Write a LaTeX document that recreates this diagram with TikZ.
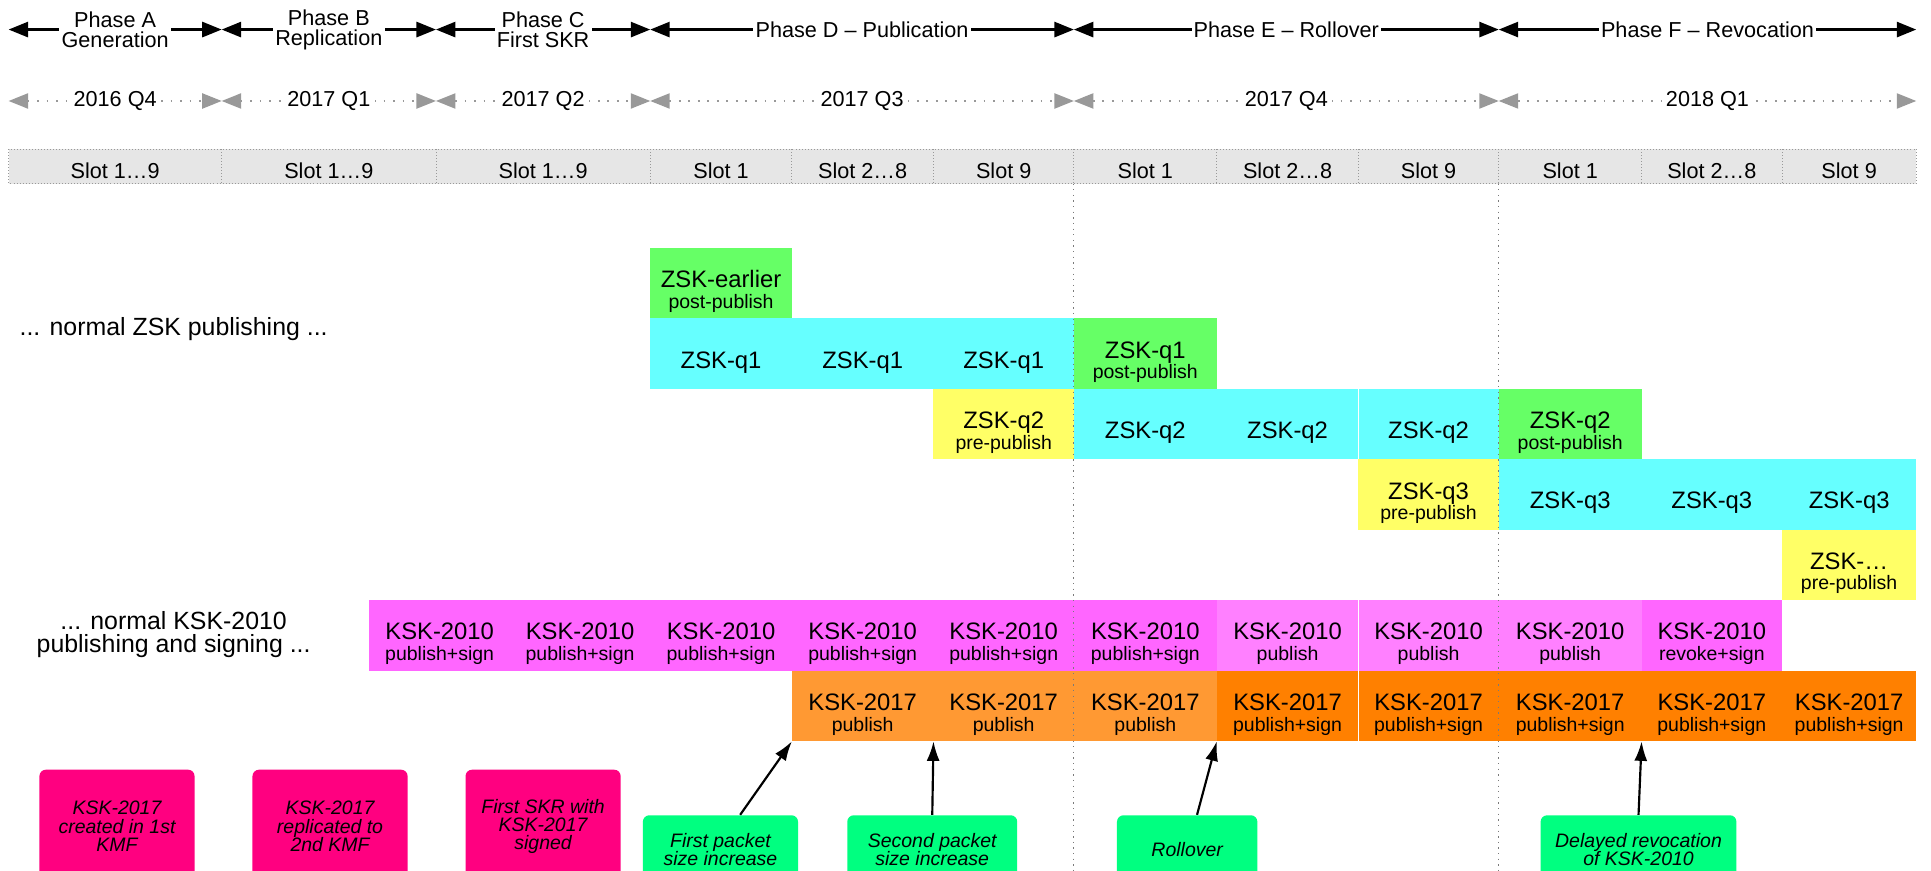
\documentclass[tikz,border=0pt]{standalone}
\usepackage{fontspec}
\setmainfont{Liberation Sans}
\usetikzlibrary{arrows.meta}

% Colours of the key states.
\definecolor{zskgreen}{HTML}{66FF66}
\definecolor{zskcyan}{HTML}{66FFFF}
\definecolor{zskyellow}{HTML}{FFFF66}
\definecolor{kskmagenta}{HTML}{FF66FF}
\definecolor{ksklight}{HTML}{FF80FF}
\definecolor{orangelight}{HTML}{FF9933}
\definecolor{orangedark}{HTML}{FF8000}
\definecolor{notepink}{HTML}{FF0080}
\definecolor{notegreen}{HTML}{00FF80}
\definecolor{slotgray}{HTML}{E6E6E6}
\definecolor{linegray}{HTML}{999999}

% Second, smaller line inside a cell.
\newcommand{\keystate}[1]{{\fontsize{9}{9.5}\selectfont #1}}

\begin{document}
\begin{tikzpicture}[%
        x = 2cm, y = -2cm,
        >=Latex,
        phase/.style = {%
            arrows = {Triangle[length=9pt, width=7pt]-Triangle[length=9pt, width=7pt]},
            line width = 1.1pt
        },
        quarter/.style = {%
            arrows = {Triangle[length=9pt, width=7pt]-Triangle[length=9pt, width=7pt]},
            draw = linegray, line width = 0.8pt,
            dash pattern = on 0.8pt off 3.6pt
        },
        phaselabel/.style = {fill = white, inner sep = 1pt, align = center,
            font = {\fontsize{10}{9.1}\selectfont}},
        quarterlabel/.style = {fill = white, inner sep = 2pt,
            font = {\fontsize{10}{10}\selectfont}},
        slotlabel/.style = {font = {\fontsize{10}{10}\selectfont}},
        celltext/.style = {align = center, yshift = -4pt,
            font = {\fontsize{11}{9.5}\selectfont}},
        sidelabel/.style = {align = center,
            font = {\fontsize{11.5}{10.5}\selectfont}},
        pinknote/.style = {fill = notepink, rounded corners = 3pt,
            minimum width = 2.52cm, minimum height = 1.84cm,
            align = center, inner sep = 2pt,
            font = {\fontsize{9}{8.4}\selectfont\itshape\lineskiplimit=-5pt}},
        greennote/.style = {fill = notegreen, rounded corners = 3pt,
            minimum height = 1.12cm, align = center, inner sep = 2pt,
            font = {\fontsize{9}{8.5}\selectfont\itshape\lineskiplimit=-5pt}},
        notearrow/.style = {-{Latex[length=9pt, width=6pt]}, line width = 1pt}
    ]

        \useasboundingbox (0, 0) rectangle (15.68, 7.07);

        % Boundaries of the phases and of the quarters.
        \coordinate (ph0) at (0.07, 0.24);
        \coordinate (ph1) at (1.80, 0.24);
        \coordinate (ph2) at (3.54, 0.24);
        \coordinate (ph3) at (5.28, 0.24);
        \coordinate (ph4) at (8.72, 0.24);
        \coordinate (ph5) at (12.17, 0.24);
        \coordinate (ph6) at (15.56, 0.24);

        \coordinate (qt0) at (0.07, 0.82);
        \coordinate (qt1) at (1.80, 0.82);
        \coordinate (qt2) at (3.54, 0.82);
        \coordinate (qt3) at (5.28, 0.82);
        \coordinate (qt4) at (8.72, 0.82);
        \coordinate (qt5) at (12.17, 0.82);
        \coordinate (qt6) at (15.56, 0.82);

        % ZSK blocks.
        \fill[zskgreen] (5.28, 2.01) rectangle (6.43, 2.585);
        \fill[zskcyan] (5.28, 2.585) rectangle (8.72, 3.16);
        \fill[zskgreen] (8.72, 2.585) rectangle (9.88, 3.16);
        \fill[zskyellow] (7.58, 3.16) rectangle (8.72, 3.73);
        \fill[zskcyan] (8.72, 3.16) rectangle (12.17, 3.73);
        \fill[zskgreen] (12.17, 3.16) rectangle (13.33, 3.73);
        \fill[zskyellow] (11.03, 3.73) rectangle (12.17, 4.30);
        \fill[zskcyan] (12.17, 3.73) rectangle (15.56, 4.30);
        \fill[zskyellow] (14.47, 4.30) rectangle (15.56, 4.87);

        % KSK blocks.
        \fill[kskmagenta] (3.00, 4.87) rectangle (9.88, 5.445);
        \fill[ksklight] (9.88, 4.87) rectangle (13.33, 5.445);
        \fill[kskmagenta] (13.33, 4.87) rectangle (14.47, 5.445);
        \fill[orangelight] (6.43, 5.445) rectangle (9.88, 6.02);
        \fill[orangedark] (9.88, 5.445) rectangle (15.56, 6.02);

        % Thin white cuts between some of the cells.
        \draw[white, line width = 0.6pt] (11.03, 3.16) -- (11.03, 3.73);
        \draw[white, line width = 0.6pt] (11.03, 4.87) -- (11.03, 6.02);

        % Dotted lines at the start of Phase E and Phase F.
        \draw[linegray!80!black, line width = 0.5pt, dash pattern = on 0.6pt off 2pt]
            (8.72, 1.49) -- (8.72, 7.07);
        \draw[linegray!80!black, line width = 0.5pt, dash pattern = on 0.6pt off 2pt]
            (12.17, 1.49) -- (12.17, 7.07);

        % Phases.
        \draw[phase] (ph0) -- node[phaselabel] {Phase A\\Generation} (ph1);
        \draw[phase] (ph1) -- node[phaselabel] {Phase B\\Replication} (ph2);
        \draw[phase] (ph2) -- node[phaselabel] {Phase C\\First SKR} (ph3);
        \draw[phase] (ph3) -- node[phaselabel] {Phase D – Publication} (ph4);
        \draw[phase] (ph4) -- node[phaselabel] {Phase E – Rollover} (ph5);
        \draw[phase] (ph5) -- node[phaselabel] {Phase F – Revocation} (ph6);

        % Quarters.
        \draw[quarter] (qt0) -- node[quarterlabel] {2016 Q4} (qt1);
        \draw[quarter] (qt1) -- node[quarterlabel] {2017 Q1} (qt2);
        \draw[quarter] (qt2) -- node[quarterlabel] {2017 Q2} (qt3);
        \draw[quarter] (qt3) -- node[quarterlabel] {2017 Q3} (qt4);
        \draw[quarter] (qt4) -- node[quarterlabel] {2017 Q4} (qt5);
        \draw[quarter] (qt5) -- node[quarterlabel] {2018 Q1} (qt6);

        % Row of slots.
        \draw[fill = slotgray, draw = linegray, line width = 0.4pt, densely dotted]
            (0.07, 1.21) rectangle (15.56, 1.49);
        \draw[linegray, line width = 0.4pt, densely dotted]
            (1.80, 1.21) -- (1.80, 1.49) (3.54, 1.21) -- (3.54, 1.49)
            (5.28, 1.21) -- (5.28, 1.49) (6.43, 1.21) -- (6.43, 1.49)
            (7.58, 1.21) -- (7.58, 1.49) (8.72, 1.21) -- (8.72, 1.49)
            (9.88, 1.21) -- (9.88, 1.49) (11.03, 1.21) -- (11.03, 1.49)
            (12.17, 1.21) -- (12.17, 1.49) (13.33, 1.21) -- (13.33, 1.49)
            (14.47, 1.21) -- (14.47, 1.49);

        \node[slotlabel] (slA) at (0.935, 1.385) {Slot 1…9};
        \node[slotlabel] (slB) at (2.67, 1.385) {Slot 1…9};
        \node[slotlabel] (slC) at (4.41, 1.385) {Slot 1…9};
        \node[slotlabel] (slD1) at (5.855, 1.385) {Slot 1};
        \node[slotlabel] (slD2) at (7.005, 1.385) {Slot 2…8};
        \node[slotlabel] (slD3) at (8.15, 1.385) {Slot 9};
        \node[slotlabel] (slE1) at (9.30, 1.385) {Slot 1};
        \node[slotlabel] (slE2) at (10.455, 1.385) {Slot 2…8};
        \node[slotlabel] (slE3) at (11.60, 1.385) {Slot 9};
        \node[slotlabel] (slF1) at (12.75, 1.385) {Slot 1};
        \node[slotlabel] (slF2) at (13.90, 1.385) {Slot 2…8};
        \node[slotlabel] (slF3) at (15.015, 1.385) {Slot 9};

        % Labels on the left.
        \node[sidelabel] (zsknormal) at (1.41, 2.67) {... normal ZSK publishing ...};
        \node[sidelabel] (ksknormal) at (1.41, 5.15)
            {... normal KSK-2010\\publishing and signing ...};

        % Texts of the ZSK cells.
        \node[celltext] (zske) at (5.855, 2.2975) {ZSK-earlier\\\keystate{post-publish}};
        \node[celltext] (q1a) at (5.855, 2.8725) {ZSK-q1};
        \node[celltext] (q1b) at (7.005, 2.8725) {ZSK-q1};
        \node[celltext] (q1c) at (8.15, 2.8725) {ZSK-q1};
        \node[celltext] (q1d) at (9.30, 2.8725) {ZSK-q1\\\keystate{post-publish}};
        \node[celltext] (q2a) at (8.15, 3.445) {ZSK-q2\\\keystate{pre-publish}};
        \node[celltext] (q2b) at (9.30, 3.445) {ZSK-q2};
        \node[celltext] (q2c) at (10.455, 3.445) {ZSK-q2};
        \node[celltext] (q2d) at (11.60, 3.445) {ZSK-q2};
        \node[celltext] (q2e) at (12.75, 3.445) {ZSK-q2\\\keystate{post-publish}};
        \node[celltext] (q3a) at (11.60, 4.015) {ZSK-q3\\\keystate{pre-publish}};
        \node[celltext] (q3b) at (12.75, 4.015) {ZSK-q3};
        \node[celltext] (q3c) at (13.90, 4.015) {ZSK-q3};
        \node[celltext] (q3d) at (15.015, 4.015) {ZSK-q3};
        \node[celltext] (qna) at (15.015, 4.585) {ZSK-…\\\keystate{pre-publish}};

        % Texts of the KSK-2010 cells.
        \node[celltext] (k10a) at (3.57, 5.1575) {KSK-2010\\\keystate{publish+sign}};
        \node[celltext] (k10b) at (4.71, 5.1575) {KSK-2010\\\keystate{publish+sign}};
        \node[celltext] (k10c) at (5.855, 5.1575) {KSK-2010\\\keystate{publish+sign}};
        \node[celltext] (k10d) at (7.005, 5.1575) {KSK-2010\\\keystate{publish+sign}};
        \node[celltext] (k10e) at (8.15, 5.1575) {KSK-2010\\\keystate{publish+sign}};
        \node[celltext] (k10f) at (9.30, 5.1575) {KSK-2010\\\keystate{publish+sign}};
        \node[celltext] (k10g) at (10.455, 5.1575) {KSK-2010\\\keystate{publish}};
        \node[celltext] (k10h) at (11.60, 5.1575) {KSK-2010\\\keystate{publish}};
        \node[celltext] (k10i) at (12.75, 5.1575) {KSK-2010\\\keystate{publish}};
        \node[celltext] (k10j) at (13.90, 5.1575) {KSK-2010\\\keystate{revoke+sign}};

        % Texts of the KSK-2017 cells.
        \node[celltext] (k17a) at (7.005, 5.7325) {KSK-2017\\\keystate{publish}};
        \node[celltext] (k17b) at (8.15, 5.7325) {KSK-2017\\\keystate{publish}};
        \node[celltext] (k17c) at (9.30, 5.7325) {KSK-2017\\\keystate{publish}};
        \node[celltext] (k17d) at (10.455, 5.7325) {KSK-2017\\\keystate{publish+sign}};
        \node[celltext] (k17e) at (11.60, 5.7325) {KSK-2017\\\keystate{publish+sign}};
        \node[celltext] (k17f) at (12.75, 5.7325) {KSK-2017\\\keystate{publish+sign}};
        \node[celltext] (k17g) at (13.90, 5.7325) {KSK-2017\\\keystate{publish+sign}};
        \node[celltext] (k17h) at (15.015, 5.7325) {KSK-2017\\\keystate{publish+sign}};

        % Notes at the bottom, cut by the lower edge.
        \begin{scope}
            \clip (0, 0) rectangle (15.68, 7.07);
            \node[pinknote] (gennote) at (0.95, 6.71)
                {KSK-2017\\created in 1st\\KMF};
            \node[pinknote] (repnote) at (2.68, 6.71)
                {KSK-2017\\replicated to\\2nd KMF};
            \node[pinknote] (skrnote) at (4.41, 6.71)
                {First SKR with\\KSK-2017\\signed};
            \node[greennote, minimum width = 2.52cm] (firstnote) at (5.85, 6.90)
                {First packet\\size increase};
            \node[greennote, minimum width = 2.76cm] (secondnote) at (7.57, 6.90)
                {Second packet\\size increase};
            \node[greennote, minimum width = 2.28cm] (rollnote) at (9.64, 6.90)
                {Rollover};
            \node[greennote, minimum width = 3.18cm] (revokenote) at (13.305, 6.90)
                {Delayed revocation\\of KSK-2010};
        \end{scope}

        % Points that the notes refer to.
        \coordinate (firstinc) at (6.43, 6.02);
        \coordinate (secondinc) at (7.58, 6.02);
        \coordinate (rollpt) at (9.88, 6.02);
        \coordinate (revokept) at (13.33, 6.02);

        \draw[notearrow] ([xshift = 0.32cm]firstnote.north) -- (firstinc);
        \draw[notearrow] (secondnote.north) -- (secondinc);
        \draw[notearrow] ([xshift = 0.16cm]rollnote.north) -- (rollpt);
        \draw[notearrow] (revokenote.north) -- (revokept);
    \end{tikzpicture}
\end{document}
